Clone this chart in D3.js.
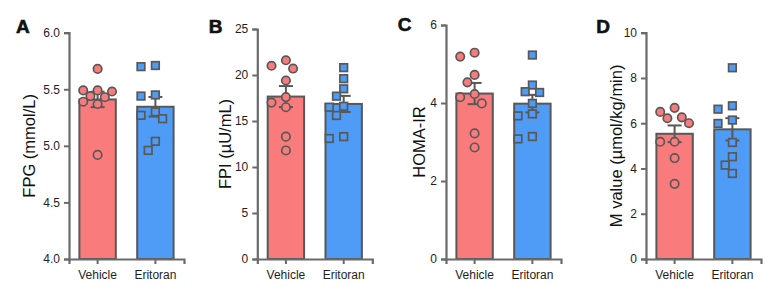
<!DOCTYPE html>
<html lang="en">
<head>
<meta charset="UTF-8">
<script src="https://cdn.jsdelivr.net/npm/d3@7"></script>
<title>Eritoran panels</title>
<style>
    body { margin: 0; background: #fff; }
    svg text { font-family: "Liberation Sans", Arial, sans-serif; }
</style>
</head>
<body>
<svg id="chart" width="780" height="294"></svg>
<script>
    // categories
    var groups = ["Vehicle", "Eritoran"];

    // values, one array per group
    var fpgVehicle = [5.68, 5.49, 5.48, 5.49, 5.44, 5.43, 5.39, 5.37, 4.92];
    var fpgEritoran = [5.70, 5.71, 5.44, 5.45, 5.27, 5.30, 5.24, 5.04, 4.96];
    var fpiVehicle = [21.0, 21.6, 20.7, 19.4, 17.6, 17.0, 16.5, 13.3, 11.8];
    var fpiEritoran = [20.8, 19.6, 18.5, 17.7, 16.6, 16.5, 15.6, 13.1, 13.3];
    var homaVehicle = [5.29, 5.19, 4.72, 4.53, 4.23, 4.15, 3.99, 3.22, 2.86];
    var homaEritoran = [5.23, 4.46, 4.27, 4.29, 3.99, 3.67, 3.72, 3.08, 3.14];
    var mVehicle = [6.68, 6.26, 6.50, 6.22, 6.00, 5.18, 5.18, 4.46, 3.32];
    var mEritoran = [8.45, 6.77, 6.62, 6.14, 5.99, 5.15, 4.52, 4.15, 3.78];

    // tick labels
    var fpgTicks = [4.0, 4.5, 5.0, 5.5, 6.0];
    var fpiTicks = [0, 5, 10, 15, 20, 25];
    var homaTicks = [0, 2, 4, 6];
    var mTicks = [0, 2, 4, 6, 8, 10];

    var titles = ["FPG (mmol/L)", "FPI (\u00b5U/mL)", "HOMA-IR", "M value (\u00b5mol/kg/min)"];
    var letters = ["A", "B", "C", "D"];

    var fills = ["#FA7B7B", "#4E9CF6"];
    var ink = "#585858";
    var axisInk = "#6a6a6a";

    // layout of each panel
    var panels = [
        { data: [fpgVehicle, fpgEritoran], ticks: fpgTicks, fmt: ".1f", x0: 69, top: 32.7, lx: 16, ly: 33.3, tx: 35 },
        { data: [fpiVehicle, fpiEritoran], ticks: fpiTicks, fmt: "d", x0: 257.3, top: 29, lx: 208.8, ly: 33, tx: 231 },
        { data: [homaVehicle, homaEritoran], ticks: homaTicks, fmt: "d", x0: 446, top: 25, lx: 397.8, ly: 30.7, tx: 425 },
        { data: [mVehicle, mEritoran], ticks: mTicks, fmt: "d", x0: 646, top: 32.7, lx: 596.2, ly: 33.3, tx: 622 }
    ];
    var bottom = 259;
    var axisLen = 115;
    var r = 4.2, sq = 7.6, step = 7.2, minDist = 9.6, maxK = 4;

    var svg = d3.select("#chart");

    // simple beeswarm: push points sideways while they overlap,
    // but never more than two steps from the centre
    function swarm(values, y) {
        var order = d3.range(values.length).sort(function(a, b) { return values[b] - values[a]; });
        var placed = [];
        var dx = new Array(values.length);
        order.forEach(function(i) {
            var py = y(values[i]);
            var best = 0, bestGap = -1;
            for (var k = 0; k <= maxK; k++) {
                var off = (k === 0) ? 0 : (k % 2 === 1 ? -1 : 1) * Math.ceil(k / 2) * step;
                var gap = d3.min(placed, function(p) { return Math.hypot(p.x - off, p.y - py); });
                if (gap === undefined) gap = Infinity;
                if (gap >= minDist) { best = off; bestGap = gap; break; }
                if (gap > bestGap) { best = off; bestGap = gap; }
            }
            dx[i] = best;
            placed.push({ x: best, y: py });
        });
        return dx;
    }

    panels.forEach(function(p, pi) {
        var g = svg.append("g");
        var ext = d3.extent(p.ticks);
        var y = d3.scaleLinear().domain(ext).range([bottom, p.top]);
        var x = d3.scaleBand().domain(groups).range([p.x0, p.x0 + axisLen])
            .paddingInner(0.37).paddingOuter(0.18);

        // bars
        g.selectAll("rect.bar").data(groups).enter().append("rect")
            .attr("class", "bar")
            .attr("x", function(d) { return x(d); })
            .attr("width", x.bandwidth())
            .attr("y", function(d, i) { return y(d3.mean(p.data[i])); })
            .attr("height", function(d, i) { return bottom - y(d3.mean(p.data[i])); })
            .attr("fill", function(d, i) { return fills[i]; })
            .attr("stroke", ink)
            .attr("stroke-width", 2);

        // mean +/- SEM
        groups.forEach(function(d, i) {
            var vals = p.data[i];
            var m = d3.mean(vals);
            var se = d3.deviation(vals) / Math.sqrt(vals.length);
            var cx = x(d) + x.bandwidth() / 2;
            var eb = g.append("g").attr("stroke", ink).attr("stroke-width", 2);
            eb.append("line").attr("x1", cx).attr("x2", cx).attr("y1", y(m - se)).attr("y2", y(m + se));
            [m - se, m + se].forEach(function(v) {
                eb.append("line").attr("x1", cx - 7).attr("x2", cx + 7).attr("y1", y(v)).attr("y2", y(v));
            });
        });

        // axes
        var yAxis = g.append("g").attr("transform", "translate(" + p.x0 + ",0)")
            .call(d3.axisLeft(y).tickValues(p.ticks).tickFormat(d3.format(p.fmt)).tickSizeOuter(0).tickSize(5).tickPadding(4));
        var xAxis = g.append("g").attr("transform", "translate(0," + bottom + ")")
            .call(d3.axisBottom(x).tickSizeOuter(0).tickSize(5).tickPadding(6));
        [yAxis, xAxis].forEach(function(a) {
            a.select(".domain").attr("stroke", axisInk).attr("stroke-width", 2.2);
            a.selectAll(".tick line").attr("stroke", axisInk).attr("stroke-width", 2);
            a.selectAll(".tick text").attr("fill", "#1e1e1e").style("font-size", "12px");
        });

        // points
        groups.forEach(function(d, i) {
            var vals = p.data[i];
            var dx = swarm(vals, y);
            var cx = x(d) + x.bandwidth() / 2;
            var pts = g.append("g");
            if (i === 0) {
                pts.selectAll("circle").data(vals).enter().append("circle")
                    .attr("cx", function(v, j) { return cx + dx[j]; })
                    .attr("cy", function(v) { return y(v); })
                    .attr("r", r)
                    .attr("fill", fills[0]).attr("stroke", ink).attr("stroke-width", 1.7);
            } else {
                pts.selectAll("rect").data(vals).enter().append("rect")
                    .attr("x", function(v, j) { return cx + dx[j] - sq / 2; })
                    .attr("y", function(v) { return y(v) - sq / 2; })
                    .attr("width", sq).attr("height", sq)
                    .attr("fill", fills[1]).attr("stroke", ink).attr("stroke-width", 1.7);
            }
        });

        // axis title
        g.append("text")
            .attr("transform", "translate(" + p.tx + "," + ((p.top + bottom) / 2) + ") rotate(-90)")
            .attr("text-anchor", "middle")
            .style("font-size", "16.5px")
            .attr("fill", "#111")
            .text(titles[pi]);

        // panel letter
        g.append("text")
            .attr("x", p.lx).attr("y", p.ly)
            .style("font-size", "19px").style("font-weight", "bold")
            .attr("stroke", "#111").attr("stroke-width", 0.6)
            .attr("fill", "#111")
            .text(letters[pi]);
    });
</script>
</body>
</html>
